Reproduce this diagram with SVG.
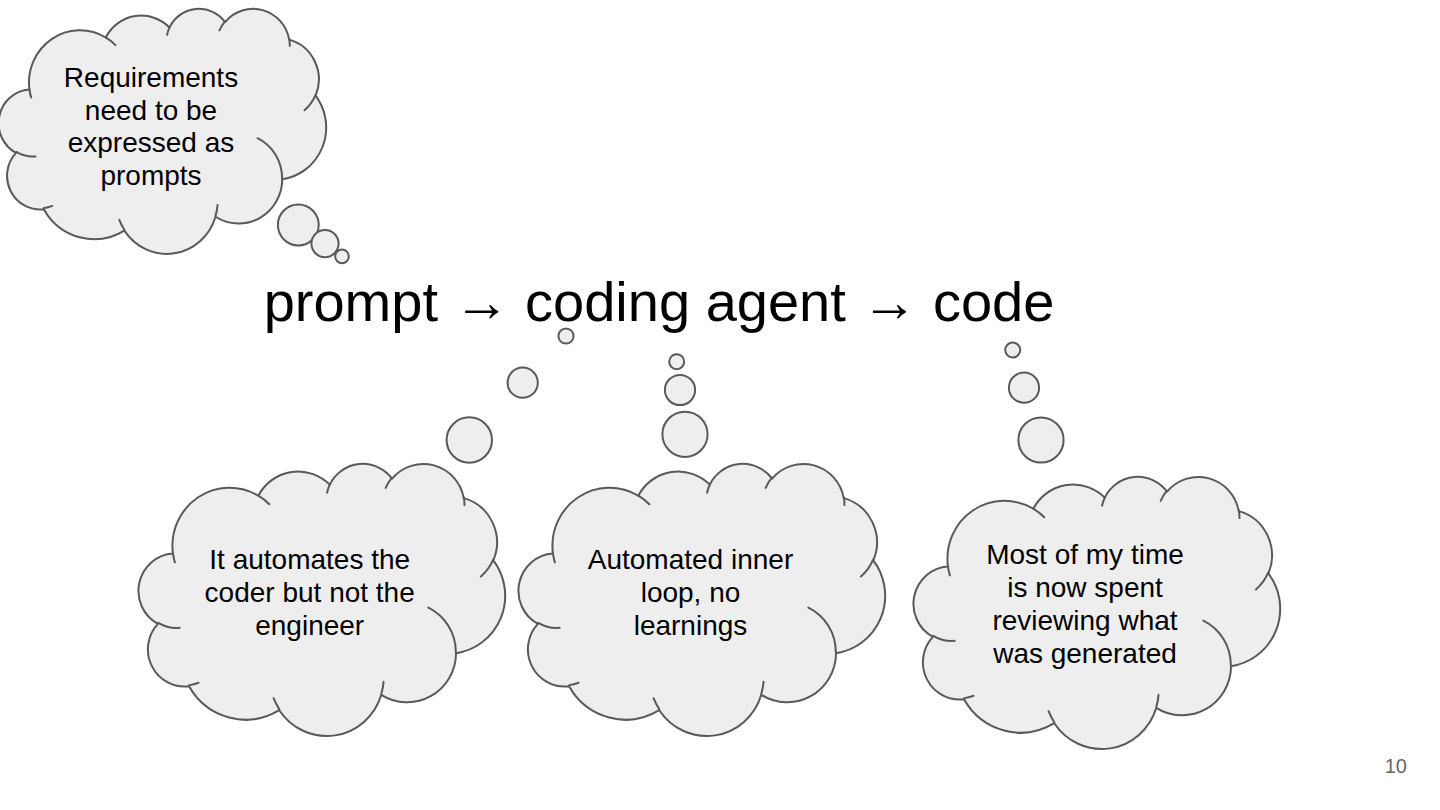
<svg xmlns="http://www.w3.org/2000/svg" xmlns:xlink="http://www.w3.org/1999/xlink" width="1440" height="810" viewBox="0 0 1440 810">
<style>
.cloud{fill:#eeeeee;stroke:#595959;stroke-width:2;stroke-linejoin:round}
.inner{fill:none;stroke:#595959;stroke-width:2;stroke-linecap:round}
.bubble{fill:#eeeeee;stroke:#595959;stroke-width:2}
.label{font-family:"Liberation Sans",Arial,sans-serif;font-size:28px;fill:#000000;text-anchor:middle}
.title{font-family:"Liberation Sans",Arial,sans-serif;font-size:56px;fill:#000000;text-anchor:middle}
.pagenum{font-family:"Liberation Sans",Arial,sans-serif;font-size:20px;fill:#666666;text-anchor:end}
</style>
<defs>
<path id="cloudShape" vector-effect="non-scaling-stroke" d="M32.95,90.48 A57.06,57.86 0 0 1 118.33,32.75 A45.06,45.76 0 0 1 189.73,21.61 A36.88,37.43 0 0 1 252.06,15.61 A41.04,41.52 0 0 1 323.75,35.11 A45.06,45.79 0 0 1 353.33,97.34 A57.24,58.05 0 0 1 316.04,190.17 A48.88,49.53 0 0 1 241.28,231.79 A57.05,58.02 0 0 1 139.25,247.22 A65.23,66.38 0 0 1 49.05,223.33 A36.84,37.26 0 0 1 17.86,160.86 A36.71,37.43 0 0 1 32.95,90.48 Z"/>
<path id="cloudInner" vector-effect="non-scaling-stroke" d="M39.65,164.82 A36.71,37.43 0 0 1 18.25,159.80 M58.54,219.74 A36.84,37.26 0 0 1 49.17,222.13 M139.23,246.12 A57.05,58.02 0 0 1 133.58,235.17 M243.56,218.80 A57.05,58.02 0 0 1 241.31,230.82 M288.36,144.53 A48.88,49.53 0 0 1 315.83,189.46 M353.15,96.67 A45.06,45.79 0 0 1 340.92,113.52 M323.80,34.16 A41.04,41.52 0 0 1 324.45,42.12 M245.68,24.88 A41.04,41.52 0 0 1 251.95,14.73 M187.07,29.72 A36.88,37.43 0 0 1 190.10,20.97 M118.29,32.69 A57.06,57.86 0 0 1 129.27,41.18 M34.87,99.41 A57.06,57.86 0 0 1 32.95,90.48"/>
</defs>

<g id="title">
<text class="title" x="659" y="321">prompt → coding agent → code</text>
</g>

<g id="connectors"></g>

<g id="cloud-requirements">
<g transform="translate(0,8) scale(0.8932,0.9007)">
<use xlink:href="#cloudShape" class="cloud"/>
<use xlink:href="#cloudInner" class="inner"/>
</g>
<circle class="bubble" cx="298.3" cy="225" r="20.4"/>
<circle class="bubble" cx="325" cy="243.6" r="13.6"/>
<circle class="bubble" cx="342" cy="256.4" r="6.8"/>
<text class="label" x="151" y="87.3">Requirements</text>
<text class="label" x="151" y="119.8">need to be</text>
<text class="label" x="151" y="152.3">expressed as</text>
<text class="label" x="151" y="184.8">prompts</text>
</g>

<g id="cloud-coder">
<g transform="translate(140,463)">
<use xlink:href="#cloudShape" class="cloud"/>
<use xlink:href="#cloudInner" class="inner"/>
</g>
<circle class="bubble" cx="469.3" cy="440" r="22.7"/>
<circle class="bubble" cx="522.7" cy="382.7" r="15.1"/>
<circle class="bubble" cx="566" cy="336" r="7.6"/>
<text class="label" x="309.7" y="569.3">It automates the</text>
<text class="label" x="309.7" y="602">coder but not the</text>
<text class="label" x="309.7" y="634.7">engineer</text>
</g>

<g id="cloud-inner-loop">
<g transform="translate(520,463)">
<use xlink:href="#cloudShape" class="cloud"/>
<use xlink:href="#cloudInner" class="inner"/>
</g>
<circle class="bubble" cx="685" cy="434.3" r="22.6"/>
<circle class="bubble" cx="680" cy="390" r="15.1"/>
<circle class="bubble" cx="676.7" cy="361.7" r="7.5"/>
<text class="label" x="690.5" y="569.3">Automated inner</text>
<text class="label" x="690.5" y="602">loop, no</text>
<text class="label" x="690.5" y="634.7">learnings</text>
</g>

<g id="cloud-reviewing">
<g transform="translate(915,476)">
<use xlink:href="#cloudShape" class="cloud"/>
<use xlink:href="#cloudInner" class="inner"/>
</g>
<circle class="bubble" cx="1041" cy="440" r="22.6"/>
<circle class="bubble" cx="1024" cy="387.7" r="15.1"/>
<circle class="bubble" cx="1012.7" cy="350" r="7.5"/>
<text class="label" x="1085" y="563.5">Most of my time</text>
<text class="label" x="1085" y="596.5">is now spent</text>
<text class="label" x="1085" y="629.5">reviewing what</text>
<text class="label" x="1085" y="662.5">was generated</text>
</g>

<g id="page-number">
<text class="pagenum" x="1407" y="773">10</text>
</g>
</svg>
